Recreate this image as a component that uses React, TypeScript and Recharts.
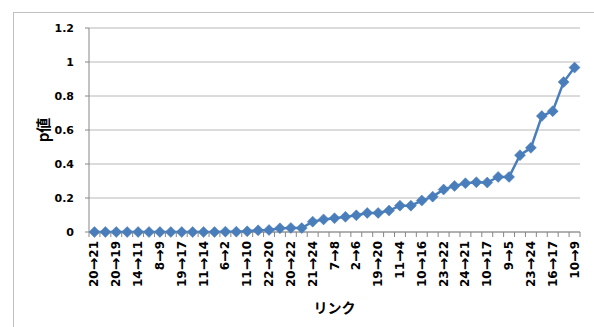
import { LineChart, Line, XAxis, YAxis, CartesianGrid } from "recharts";

// リンクごとの p 値 (昇順)
const linkLabels = [
  "20→21", "20→19", "14→11", "8→9", "19→17", "11→14", "6→2", "11→10",
  "22→20", "20→22", "21→24", "7→8", "2→6", "19→20", "11→4", "10→16",
  "23→22", "24→21", "10→17", "9→5", "23→24", "16→17", "10→9",
];

const pValues = [
  0, 0, 0, 0, 0, 0, 0, 0, 0, 0, 0, 0,
  0.002, 0.002, 0.004, 0.01, 0.012, 0.022, 0.024, 0.023, 0.061, 0.074, 0.081, 0.089,
  0.098, 0.112, 0.112, 0.126, 0.155, 0.155, 0.185, 0.208, 0.25, 0.271, 0.287,
  0.293, 0.291, 0.324, 0.324, 0.452, 0.495, 0.682, 0.711, 0.882, 0.967,
];

const yTicks = [0, 0.2, 0.4, 0.6, 0.8, 1, 1.2];

const data = pValues.map((p, idx) => ({ idx, p }));

const W = 594;
const H = 327;
const MARGIN = { top: 28, right: 14, left: 40, bottom: 25 };
const Y_AXIS_W = 49;
const X_AXIS_H = 70;
const PLOT_W = W - MARGIN.left - MARGIN.right - Y_AXIS_W;
const BAND = PLOT_W / pValues.length;

const BLUE = "#4a7ebb";
const AXIS = "#868686";
const GRID = "#b8b8b8";
const NUM_FONT = "'DejaVu Sans', sans-serif";
const JP_FONT = "'Noto Sans CJK JP', sans-serif";

const Diamond = (props: any) => {
  const { cx, cy } = props;
  if (cx == null || cy == null) return null;
  const r = 5.5;
  return (
    <polygon
      points={`${cx},${cy - r} ${cx + r},${cy} ${cx},${cy + r} ${cx - r},${cy}`}
      fill={BLUE}
      stroke={BLUE}
      strokeWidth={0.5}
    />
  );
};

// 区切り目盛りはカテゴリの境界に、ラベルは1つおきに表示
const LinkTick = (props: any) => {
  const { x, y, payload } = props;
  const i = Number(payload.value);
  const label = i % 2 === 0 ? linkLabels[i / 2] : null;
  const [from, to] = label ? label.split("→") : ["", ""];
  return (
    <g>
      <line x1={x - BAND / 2} x2={x - BAND / 2} y1={y} y2={y + 5} stroke={AXIS} />
      {i === pValues.length - 1 && (
        <line x1={x + BAND / 2} x2={x + BAND / 2} y1={y} y2={y + 5} stroke={AXIS} />
      )}
      {label && (
        <text
          transform={`translate(${x},${y + 9}) rotate(-90)`}
          textAnchor="end"
          dominantBaseline="central"
          fontFamily={NUM_FONT}
          fontWeight="bold"
          fontSize={12}
          fill="#000"
        >
          <tspan>{from}</tspan>
          <tspan fontSize={15}>→</tspan>
          <tspan>{to}</tspan>
        </text>
      )}
    </g>
  );
};

const YTitle = ({ viewBox }: any) => {
  const cx = viewBox.x + 2;
  const cy = viewBox.y + viewBox.height / 2;
  return (
    <text
      x={cx}
      y={cy}
      transform={`rotate(-90, ${cx}, ${cy})`}
      textAnchor="middle"
      dominantBaseline="central"
      fontFamily={JP_FONT}
      fontWeight="bold"
      fontSize={15}
      fill="#000"
    >
      p値
    </text>
  );
};

const XTitle = ({ viewBox }: any) => (
  <text
    x={viewBox.x + viewBox.width / 2}
    y={viewBox.y + 75}
    textAnchor="middle"
    dominantBaseline="central"
    fontFamily={JP_FONT}
    fontWeight="bold"
    fontSize={14}
    fill="#000"
  >
    リンク
  </text>
);

const App = () => {
  return (
    <div
      style={{
        position: "fixed",
        left: 0,
        top: 0,
        width: W,
        height: H,
        background: "#fff",
        overflow: "hidden",
      }}
    >
      {/* グラフ枠 */}
      <div
        style={{
          position: "absolute",
          left: 13,
          top: 12,
          width: 700,
          height: 400,
          border: "1px solid #c0c0c0",
        }}
      />
      <LineChart
        width={W}
        height={H}
        data={data}
        margin={MARGIN}
        style={{ position: "absolute", left: 0, top: 0 }}
      >
        <CartesianGrid horizontal vertical={false} stroke={GRID} strokeWidth={1} />
        <XAxis
          dataKey="idx"
          type="category"
          height={X_AXIS_H}
          interval={0}
          padding={{ left: BAND / 2, right: BAND / 2 }}
          tickSize={0}
          tickMargin={0}
          tickLine={false}
          axisLine={{ stroke: AXIS }}
          tick={<LinkTick />}
          label={{ content: XTitle }}
        />
        <YAxis
          width={Y_AXIS_W}
          domain={[0, 1.2]}
          ticks={yTicks}
          interval={0}
          tickSize={4}
          tickMargin={11}
          tickLine={{ stroke: AXIS }}
          axisLine={{ stroke: AXIS }}
          tick={{ fill: "#000", fontSize: 11, fontWeight: "bold", fontFamily: NUM_FONT }}
          label={{ content: YTitle }}
        />
        <Line
          type="linear"
          dataKey="p"
          stroke={BLUE}
          strokeWidth={2.5}
          dot={<Diamond />}
          activeDot={false}
          isAnimationActive={false}
        />
      </LineChart>
    </div>
  );
};

export default App;
